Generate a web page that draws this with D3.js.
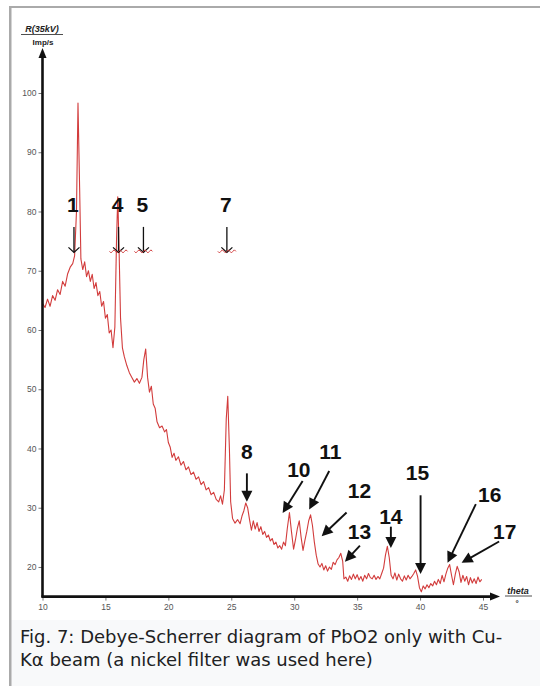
<!DOCTYPE html>
<html>
<head>
<meta charset="utf-8">
<script src="https://cdn.jsdelivr.net/npm/d3@7"></script>
<style>
  html, body { margin: 0; padding: 0; background: #fff; }
  svg { display: block; }
</style>
</head>
<body>
<script>
// diffraction trace: angle (deg) and count rate (Imp/s)
const theta = [
  10.0, 10.2, 10.4, 10.6, 10.8, 11.0, 11.2, 11.4, 11.6, 11.8, 12.0, 12.2, 12.4, 12.55, 12.7, 12.82, 12.95,
  13.05, 13.2, 13.35, 13.5, 13.65, 13.8, 13.95, 14.1, 14.25, 14.4, 14.55, 14.7, 14.85, 15.0, 15.15, 15.3,
  15.45, 15.6, 15.75, 15.88, 15.98, 16.08, 16.2, 16.35, 16.5, 16.7, 16.9, 17.1, 17.3, 17.5, 17.7, 17.9,
  18.05, 18.2, 18.35, 18.5, 18.65, 18.8, 18.95, 19.1, 19.3, 19.5, 19.7, 19.85, 20.0, 20.15, 20.3, 20.45,
  20.6, 20.8, 21.0, 21.2, 21.4, 21.6, 21.8, 22.0, 22.2, 22.4, 22.6, 22.8, 23.0, 23.2, 23.4, 23.6, 23.8,
  24.0, 24.15, 24.3, 24.45, 24.6, 24.72, 24.85, 24.95, 25.1, 25.3, 25.5, 25.7, 25.85, 26.0, 26.15, 26.3,
  26.45, 26.6, 26.75, 26.9, 27.05, 27.2, 27.35, 27.5, 27.65, 27.8, 27.95, 28.1, 28.25, 28.4, 28.55, 28.7,
  28.85, 29.0, 29.15, 29.3, 29.45, 29.62, 29.78, 29.95, 30.1, 30.25, 30.4, 30.55, 30.7, 30.85, 31.0, 31.15,
  31.3, 31.45, 31.6, 31.75, 31.9, 32.05, 32.2, 32.35, 32.5, 32.65, 32.8, 32.95, 33.1, 33.25, 33.4, 33.55,
  33.7, 33.85, 33.95, 34.1, 34.25, 34.4, 34.55, 34.7, 34.85, 35.0, 35.15, 35.3, 35.45, 35.6, 35.75, 35.9,
  36.05, 36.2, 36.35, 36.5, 36.65, 36.8, 36.95, 37.1, 37.25, 37.4, 37.55, 37.7, 37.85, 38.0, 38.15, 38.3,
  38.45, 38.6, 38.75, 38.9, 39.05, 39.2, 39.35, 39.5, 39.65, 39.8, 39.95, 40.1, 40.25, 40.4, 40.55, 40.7,
  40.85, 41.0, 41.15, 41.3, 41.45, 41.6, 41.75, 41.9, 42.05, 42.2, 42.35, 42.5, 42.65, 42.8, 42.95, 43.1,
  43.25, 43.4, 43.55, 43.7, 43.85, 44.0, 44.15, 44.3, 44.45, 44.6, 44.75, 44.9
]
const counts = [
  64.5, 63.8, 65.2, 64.0, 65.8, 65.0, 66.8, 66.0, 68.2, 67.4, 69.5, 70.6, 71.2, 72.5, 80.0, 98.3, 84.0,
  72.0, 70.2, 71.5, 69.0, 70.0, 68.2, 69.4, 67.0, 68.0, 65.8, 66.5, 64.0, 64.8, 62.0, 62.6, 59.5,
  60.0, 57.0, 60.5, 75.0, 82.5, 74.0, 62.0, 57.0, 55.5, 54.0, 52.8, 52.0, 51.2, 51.8, 51.0, 52.0,
  55.0, 56.8, 52.0, 49.5, 50.5, 47.5, 46.8, 44.5, 43.5, 43.8, 42.8, 43.2, 41.0, 40.2, 38.5, 39.2,
  38.0, 38.6, 37.2, 37.8, 36.4, 36.9, 35.6, 36.0, 34.8, 35.2, 33.9, 34.4, 33.0, 33.4, 32.2, 32.6, 31.4,
  31.0, 32.0, 30.6, 33.0, 45.0, 48.8, 40.0, 31.0, 28.2, 27.4, 28.0, 27.3, 28.6, 29.5, 30.8, 30.0,
  28.0, 26.2, 27.8, 26.4, 27.5, 26.0, 26.8, 25.5, 26.0, 25.0, 25.4, 24.4, 24.8, 23.8, 24.2, 23.2,
  23.6, 23.0, 24.2, 23.6, 26.5, 29.2, 26.0, 23.0, 24.6, 26.5, 27.8, 25.0, 22.8, 24.5, 26.0, 27.8,
  28.8, 27.0, 24.2, 22.0, 20.5, 20.0, 20.6, 19.5, 20.2, 19.3, 20.0, 19.6, 20.8, 20.4, 21.2, 21.6,
  22.3, 21.0, 18.0, 18.3, 17.6, 18.5, 17.9, 18.8, 18.0, 18.7, 17.8, 18.4, 17.6, 18.6, 18.0, 18.9,
  18.2, 18.0, 18.6, 17.9, 18.4, 18.0, 18.9, 19.8, 22.0, 23.5, 21.6, 18.6, 18.0, 19.0, 17.8, 18.8,
  18.0, 17.6, 18.5, 17.8, 18.6, 18.0, 18.4, 18.9, 19.5, 18.4, 16.5, 15.8, 16.8, 16.3, 17.0, 16.5,
  17.2, 16.8, 17.6, 17.0, 17.9, 17.2, 18.6, 17.5, 18.8, 19.8, 20.4, 18.6, 17.0, 18.8, 20.1, 19.2,
  17.4, 18.6, 17.6, 18.4, 17.0, 18.2, 17.3, 18.0, 17.2, 18.3, 17.5, 17.9
]

const yTickValues = [20, 30, 40, 50, 60, 70, 80, 90, 100]
const xTickValues = [10, 15, 20, 25, 30, 35, 40, 45]

// small markers along the top (label, angle); some carry a red squiggle
const markerNames = ['1', '4', '5', '7']
const markerTheta = [12.5, 16.04, 18.02, 24.65]
const markerSquiggle = [false, true, true, true]
const markerTop = 77.4
const markerTip = 73.1
const markerText = 79.9

// numbered peak arrows, all in [theta, counts]
const peakNames = ['8', '10', '11', '12', '13', '14', '15', '16', '17']
const peakText = [[26.24, 38.2], [30.37, 35.2], [32.87, 38.2], [35.18, 31.65], [35.18, 24.7],
                  [37.68, 27.3], [39.79, 34.7], [45.54, 31.0], [46.73, 24.7]]
const peakFrom = [[26.24, 35.8], [30.67, 34.5], [32.78, 36.2], [34.16, 29.2], [35.22, 23.6],
                  [37.68, 26.8], [40.04, 32.1], [44.43, 30.6], [46.28, 24.3]]
const peakTo = [[26.24, 31.0], [29.08, 29.1], [31.19, 29.7], [32.18, 25.2], [34.03, 20.9],
                [37.68, 23.2], [40.04, 18.8], [42.18, 20.7], [43.3, 20.7]]

const captionLines = [
  'Fig. 7: Debye-Scherrer diagram of PbO2 only with Cu-',
  'K\u03b1 beam (a nickel filter was used here)'
]

const W = 540, H = 686
const svg = d3.select('body').append('svg').attr('width', W).attr('height', H)

// frame + caption box
svg.append('rect').attr('x', 0).attr('y', 0).attr('width', W).attr('height', H).attr('fill', '#fff')
svg.append('rect').attr('x', 11).attr('y', 620).attr('width', W - 11).attr('height', H - 620).attr('fill', '#f8f9fa')
svg.append('rect').attr('x', 9).attr('y', 6).attr('width', W - 9).attr('height', 2).attr('fill', '#aaa')
svg.append('rect').attr('x', 9).attr('y', 6).attr('width', 2.5).attr('height', H - 6).attr('fill', '#aaa')

svg.append('g').selectAll('text').data(captionLines).join('text')
  .attr('x', 20)
  .attr('y', (d, i) => 643 + i * 23)
  .attr('font-family', 'DejaVu Sans, sans-serif')
  .attr('font-size', 18)
  .attr('fill', '#202122')
  .text(d => d)

const x = d3.scaleLinear().domain([10, 45]).range([42.5, 483])
const y = d3.scaleLinear().domain([15, 100]).range([596.6, 93])

// tick labels
const tickFont = 'Liberation Sans, Arial, sans-serif'
const yAxis = svg.append('g')
  .attr('transform', `translate(${x(10)},0)`)
  .call(d3.axisLeft(y).tickValues(yTickValues).tickSize(4).tickPadding(2).tickSizeOuter(0))
yAxis.select('.domain').remove()
yAxis.selectAll('line').attr('stroke', '#777')
yAxis.selectAll('text').attr('font-family', tickFont).attr('font-size', 8.5).attr('fill', '#555')

const xAxis = svg.append('g')
  .attr('transform', `translate(0,${y(15)})`)
  .call(d3.axisBottom(x).tickValues(xTickValues).tickSize(4).tickPadding(3).tickSizeOuter(0))
xAxis.select('.domain').remove()
xAxis.selectAll('line').attr('stroke', '#777')
xAxis.selectAll('text').attr('font-family', tickFont).attr('font-size', 8.5).attr('fill', '#555')

// the trace
const series = theta.map((t, i) => [t, counts[i]])
svg.append('path')
  .datum(series)
  .attr('fill', 'none')
  .attr('stroke', '#d23c3c')
  .attr('stroke-width', 1.1)
  .attr('stroke-linejoin', 'round')
  .attr('d', d3.line().x(d => x(d[0])).y(d => y(d[1])))

// heavy axis lines with arrow heads
const x0 = x(10), y0 = y(15)
const yTop = y(100) - 45, xEnd = x(45) + 17
svg.append('line').attr('x1', x0).attr('y1', y0 + 1).attr('x2', x0).attr('y2', yTop + 8)
  .attr('stroke', '#111').attr('stroke-width', 2.6)
svg.append('path').attr('d', `M${x0},${yTop} L${x0 - 4},${yTop + 10} L${x0 + 4},${yTop + 10} Z`).attr('fill', '#111')
svg.append('line').attr('x1', x0 - 1).attr('y1', y0).attr('x2', xEnd - 8).attr('y2', y0)
  .attr('stroke', '#111').attr('stroke-width', 2.6)
svg.append('path').attr('d', `M${xEnd},${y0} L${xEnd - 10},${y0 - 4} L${xEnd - 10},${y0 + 4} Z`).attr('fill', '#111')

// axis titles
const yTitle = svg.append('g').attr('font-family', tickFont).attr('font-weight', 'bold').attr('fill', '#222')
yTitle.append('text').attr('x', 42).attr('y', 32).attr('text-anchor', 'middle')
  .attr('font-size', 9).attr('font-style', 'italic').text('R(35kV)')
yTitle.append('line').attr('x1', 21).attr('x2', 63).attr('y1', 34.5).attr('y2', 34.5).attr('stroke', '#222').attr('stroke-width', 0.8)
yTitle.append('text').attr('x', 43).attr('y', 45).attr('text-anchor', 'middle')
  .attr('font-size', 8).text('Imp/s')

const xTitle = svg.append('g').attr('font-family', tickFont).attr('font-weight', 'bold').attr('fill', '#222')
xTitle.append('text').attr('x', 518).attr('y', 594).attr('text-anchor', 'middle')
  .attr('font-size', 9).attr('font-style', 'italic').text('theta')
xTitle.append('line').attr('x1', 505).attr('x2', 532).attr('y1', 596).attr('y2', 596).attr('stroke', '#222').attr('stroke-width', 0.8)
xTitle.append('text').attr('x', 517).attr('y', 606).attr('text-anchor', 'middle')
  .attr('font-size', 8).text('\u00b0')

// small markers at the top
const labelFont = 'Liberation Sans, Arial, sans-serif'
const markers = svg.append('g').selectAll('g').data(markerNames).join('g')
markers.each(function (name, i) {
  const g = d3.select(this)
  const mx = x(markerTheta[i]), top = y(markerTop), tip = y(markerTip)
  g.append('text').attr('x', mx - 1).attr('y', y(markerText)).attr('text-anchor', 'middle')
    .attr('font-family', labelFont).attr('font-weight', 'bold').attr('font-size', 21).attr('fill', '#111')
    .text(name)
  g.append('line').attr('x1', mx).attr('x2', mx).attr('y1', top).attr('y2', tip)
    .attr('stroke', '#111').attr('stroke-width', 1.3)
  g.append('path').attr('d', `M${mx - 5.5},${tip - 5} L${mx},${tip} L${mx + 5.5},${tip - 5}`)
    .attr('fill', 'none').attr('stroke', '#111').attr('stroke-width', 1.3)
  if (markerSquiggle[i]) {
    g.append('path')
      .attr('d', `M${mx - 9},${tip - 1} q1.5,3 3,0 q1.5,-3 3,0 q1.5,3 3,0 q1.5,-3 3,0 q1.5,3 3,0 q1.5,-3 3,0`)
      .attr('fill', 'none').attr('stroke', '#d23c3c').attr('stroke-width', 1)
  }
})

// numbered peak arrows
const peaks = svg.append('g').selectAll('g').data(peakNames).join('g')
peaks.each(function (name, i) {
  const g = d3.select(this)
  const [tx, ty] = [x(peakText[i][0]), y(peakText[i][1])]
  const [fx, fy] = [x(peakFrom[i][0]), y(peakFrom[i][1])]
  const [ex, ey] = [x(peakTo[i][0]), y(peakTo[i][1])]
  const len = Math.hypot(ex - fx, ey - fy)
  const ux = (ex - fx) / len, uy = (ey - fy) / len
  const head = 11, half = 5.5
  const bx = ex - ux * head, by = ey - uy * head
  g.append('text').attr('x', tx).attr('y', ty).attr('text-anchor', 'middle')
    .attr('font-family', labelFont).attr('font-weight', 'bold').attr('font-size', 21).attr('fill', '#111')
    .text(name)
  g.append('line').attr('x1', fx).attr('y1', fy).attr('x2', bx + ux).attr('y2', by + uy)
    .attr('stroke', '#111').attr('stroke-width', 1.9)
  g.append('path')
    .attr('d', `M${ex},${ey} L${bx - uy * half},${by + ux * half} L${bx + uy * half},${by - ux * half} Z`)
    .attr('fill', '#111')
})
</script>
</body>
</html>
